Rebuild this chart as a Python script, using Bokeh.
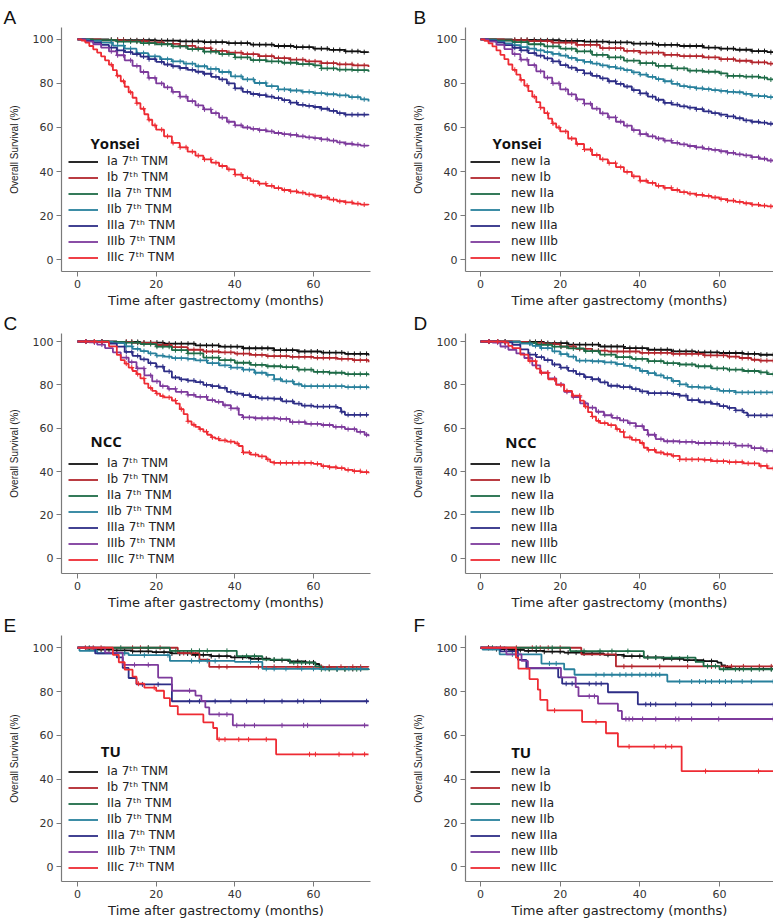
from bisect import bisect_right
from bokeh.plotting import figure
from bokeh.models import Legend, LegendItem, Label, FixedTicker, Range1d
from bokeh.layouts import gridplot
from bokeh.embed import file_html
from bokeh.resources import INLINE

# ---------------- data ----------------
X_TICKS = [0, 20, 40, 60]
Y_TICKS = [0, 20, 40, 60, 80, 100]
X_LABEL = "Time after gastrectomy (months)"
Y_LABEL = "Overall Survival (%)"
LABELS_7TH = ["Ia 7ᵗʰ TNM", "Ib 7ᵗʰ TNM", "IIa 7ᵗʰ TNM", "IIb 7ᵗʰ TNM",
              "IIIa 7ᵗʰ TNM", "IIIb 7ᵗʰ TNM", "IIIc 7ᵗʰ TNM"]
LABELS_NEW = ["new Ia", "new Ib", "new IIa", "new IIb", "new IIIa", "new IIIb", "new IIIc"]
COLORS = ["#111111", "#b3262d", "#1e6b47", "#28809c", "#2d2d86", "#7d3a9c", "#ee2b33"]

# Panel A - Yonsei, 7th TNM  (time in months, survival in %)
A_IA = [(0,100),(8,99.8),(12,99.6),(20,99.4),(26,99.1),(32,98.8),(38,98.3),(44,97.6),(50,97),(55,96.5),(60,95.8),(64,95.2),(68,94.6),(72,94.2),(74,94)]
A_IB = [(0,100),(6,99.6),(12,99.2),(18,98.6),(22,98),(26,97.1),(30,96),(34,94.8),(38,94),(42,93.3),(46,92.4),(50,91.5),(54,90.8),(58,90),(62,89.2),(66,88.7),(70,88.2),(74,87.5)]
A_IIA = [(0,100),(4,99.6),(10,99),(16,98.3),(20,97.8),(24,96.8),(28,95.6),(32,94.4),(36,93.3),(40,91.8),(44,90.6),(48,90),(52,89.4),(56,88.8),(60,88.2),(62,86.8),(66,86.3),(70,86),(74,85.3)]
A_IIB = [(0,100),(3,99.3),(6,98.5),(9,97.2),(12,95.8),(15,93.8),(18,92.3),(21,91),(24,90),(27,89),(30,87.8),(33,86.6),(36,85.2),(39,83.2),(42,81.8),(45,80.2),(48,78.8),(51,77.3),(54,76.8),(57,76.2),(60,75.6),(63,75.1),(66,74.6),(69,73.8),(72,72.8),(74,71.8)]
A_IIIA = [(0,100),(2,99.3),(4,98.5),(6,97.5),(8,96.3),(10,95),(12,94.2),(14,93.3),(16,92.2),(18,91),(20,89.8),(22,88.6),(24,87.8),(26,87),(28,86.2),(30,85.3),(32,84.4),(34,83),(36,81.8),(38,80),(40,77.8),(42,76.2),(44,75.2),(46,74.7),(48,74),(50,73.3),(52,72.4),(54,71.3),(56,70.3),(58,69.8),(60,69.3),(62,68.5),(64,67.5),(66,66.5),(68,65.8),(74,65.6)]
A_IIIB = [(0,100),(2,99),(4,97.8),(6,96.3),(8,94.6),(10,92.8),(12,90.5),(14,88),(16,85.2),(18,82.5),(20,80),(22,78.2),(24,76.2),(26,74),(28,72),(30,70),(32,68.2),(34,66.5),(36,64.5),(38,62.6),(40,61),(42,60),(44,59.4),(46,58.8),(48,58.2),(50,57.5),(52,57),(54,56.6),(56,56),(58,55.5),(60,55.2),(62,54.6),(64,54),(66,53.2),(68,52.6),(70,52.2),(72,51.8),(74,51.6)]
A_IIIC = [(0,100),(1,99.5),(2,98.5),(3,97),(4,95.5),(5,94),(6,92.3),(7,90.5),(8,88.5),(9,86),(10,83.5),(11,81),(12,78.5),(13,76),(14,73.5),(15,71),(16,68.5),(17,66),(18,63.5),(19,61),(20,59),(22,56),(24,53),(26,51),(28,49),(30,47.2),(32,45.5),(34,44),(36,42.5),(38,41),(40,38.6),(42,37),(44,35.6),(46,34.5),(48,33.5),(50,32.5),(52,31.6),(54,31),(56,30.4),(58,29.6),(60,29),(62,28.2),(64,27.2),(66,26.5),(68,26),(70,25.4),(72,25),(74,24.8)]

# Panel B - Yonsei, new staging
B_IA = [(0,100),(8,99.8),(14,99.6),(20,99.3),(26,99),(32,98.6),(38,98.1),(44,97.5),(50,97),(56,96.3),(60,95.8),(64,95.3),(68,94.7),(72,94.2),(74,94)]
B_IB = [(0,100),(6,99.6),(12,99.2),(18,98.5),(24,97.5),(30,96),(36,94.8),(40,94),(46,93),(50,92.4),(56,91.8),(60,91),(64,90.3),(68,89.6),(72,89),(74,88.6)]
B_IIA = [(0,100),(4,99.5),(8,98.8),(12,97.8),(16,96.8),(20,95.8),(24,94.6),(28,93),(32,91.8),(36,90.4),(40,89.2),(44,88),(48,86.8),(52,85.8),(56,85.3),(60,84.6),(62,83.4),(66,83.1),(70,82.6),(72,81.8),(74,80.8)]
B_IIB = [(0,100),(2,99.6),(4,99),(6,98.2),(8,97.4),(10,96.5),(12,95.8),(14,95),(16,94.2),(18,93.4),(20,92.6),(22,91.6),(24,90.6),(26,89.8),(28,89),(30,88.2),(32,87.5),(34,86.8),(36,86),(38,85),(40,84),(42,83),(44,82),(46,81),(48,79.8),(50,78.8),(52,78.3),(54,77.8),(56,77.4),(58,77),(60,76.6),(62,76.2),(64,76),(66,75.3),(68,74.5),(70,74.2),(72,73.8),(74,73.3)]
B_IIIA = [(0,100),(2,99.4),(4,98.5),(6,97.4),(8,96.2),(10,95),(12,93.8),(14,92.6),(16,91.4),(18,90),(20,88.3),(22,87.2),(24,86),(26,84.6),(28,83.4),(30,82.3),(32,81),(34,79.8),(36,78.6),(38,77),(40,75.5),(42,74),(44,72.6),(46,71.2),(48,70.4),(50,69.6),(52,69),(54,68.3),(56,67.3),(58,66.5),(60,65.8),(62,65),(64,64.2),(66,63.2),(68,62.6),(70,62.2),(72,61.7),(74,61.3)]
B_IIIB = [(0,100),(2,99),(4,97.5),(6,95.6),(8,93.3),(10,90.8),(12,88.3),(14,85.5),(16,82.6),(18,80),(20,77.3),(22,75),(24,72.8),(26,70.8),(28,68.6),(30,66.4),(32,64.6),(34,62.6),(36,60.8),(38,58.8),(40,57),(42,56),(44,55),(46,54),(48,53),(50,52.3),(52,51.6),(54,51),(56,50.3),(58,49.8),(60,49.2),(62,48.5),(64,47.8),(66,47.3),(68,46.5),(70,45.8),(72,45),(74,44.7)]
B_IIIC = [(0,100),(1,99.3),(2,98.2),(3,96.8),(4,95),(5,93),(6,91),(7,88.6),(8,86.2),(9,84),(10,81.6),(11,79),(12,76.5),(13,74),(14,71.5),(15,69),(16,66.5),(17,64),(18,61.8),(19,60),(20,58.2),(22,55),(24,52.5),(26,50),(28,47.5),(30,45.5),(32,43.8),(34,42),(36,39.8),(38,37.8),(40,35.8),(42,34.8),(44,33.5),(46,32.6),(48,31.6),(50,30.6),(52,30),(54,29.4),(56,28.9),(58,28.2),(60,27.5),(62,26.8),(64,26.2),(66,25.6),(68,25),(70,24.5),(72,24.2),(74,24)]

# Panel C - NCC, 7th TNM
C_IA = [(0,100),(10,99.8),(16,99.5),(22,99),(30,98.2),(36,97.6),(42,96.9),(50,96),(56,95.4),(62,94.9),(68,94.3),(74,93.6)]
C_IB = [(0,100),(8,99.8),(14,99.4),(20,98.4),(24,97.4),(28,96.2),(32,95.4),(36,95),(40,94.4),(44,93.8),(48,93.3),(54,92.9),(60,92.5),(66,92),(70,91.4),(74,90.4)]
C_IIA = [(0,100),(8,99.8),(12,99.5),(16,98.8),(20,97.6),(24,96),(28,94.5),(32,92.6),(36,91.4),(40,90.2),(44,89.2),(48,88.6),(52,88.2),(56,87),(60,86),(64,85.6),(68,85),(74,84.5)]
C_IIB = [(0,100),(6,99.8),(9,99.3),(12,97.8),(14,96.6),(16,95.6),(18,94.5),(20,93.5),(22,93),(24,92.3),(28,92),(30,91.3),(33,90),(36,89),(39,88),(42,87),(45,85.6),(48,84.6),(50,82.6),(52,81.6),(55,80.3),(57,79.4),(68,79),(74,78.4)]
C_IIIA = [(0,100),(4,99.8),(8,99),(10,97.6),(12,95.2),(14,93.4),(16,91.8),(18,90),(20,88.4),(22,86.2),(24,83.4),(26,82.5),(28,82),(30,81.3),(32,80),(34,79.4),(36,78.6),(38,76.8),(40,76),(42,75.3),(44,74.4),(46,73.8),(50,73.6),(52,72.4),(55,71.4),(57,70.4),(60,70),(66,69.4),(67,67.6),(68,66.2),(74,66.2)]
C_IIIB = [(0,100),(3,99.6),(5,98.6),(7,97),(9,95),(11,92.6),(13,90.5),(15,87.6),(17,84.4),(19,81.6),(21,79.4),(23,78.2),(25,76.8),(28,75.4),(30,74.5),(33,73),(35,72.2),(37,70.6),(39,69.2),(41,66.2),(42,65),(45,64.6),(51,64.3),(54,62.8),(58,62),(62,61.5),(65,60.6),(68,59.6),(71,58.3),(73,57),(74,56.3)]
C_IIIC = [(0,100),(5,99.8),(8,97.8),(10,93.8),(11,91.4),(12,89.8),(13,88),(14,86.4),(15,85),(16,83),(17,80.6),(18,78.6),(19,77.2),(20,76),(21,74.8),(22,74.2),(24,72.8),(25,71.4),(26,68.8),(27,66.5),(28,63.2),(29,61.6),(30,60.6),(31,59.6),(32,58.4),(33,57),(34,55.8),(35,55.2),(36,54.4),(38,53.8),(40,53),(41,51.8),(42,48.8),(44,47.8),(46,47),(48,45.6),(49,44.4),(50,44),(58,44),(60,43.6),(62,42.5),(64,42),(66,41.6),(68,40.8),(70,40.2),(72,39.8),(74,39.2)]

# Panel D - NCC, new staging
D_IA = [(0,100),(10,99.8),(16,99.3),(22,98.6),(30,97.7),(36,97),(42,96.2),(48,95.5),(54,95),(60,94.7),(66,94.3),(70,93.9),(74,93.5)]
D_IB = [(0,100),(8,99.8),(12,99.4),(16,98.8),(20,97.7),(24,96.6),(28,95.8),(32,95.4),(40,94.8),(48,94.3),(56,93.6),(62,93),(65,92.4),(68,91.6),(70,91.2),(74,90.6)]
D_IIA = [(0,100),(6,99.8),(10,99.3),(14,98.5),(18,97.6),(22,96.8),(26,95.6),(30,94),(34,92.8),(38,92),(42,91),(46,90),(50,89.4),(54,88.6),(58,87.6),(62,87),(66,86.4),(70,85.8),(72,85),(74,84.2)]
D_IIB = [(0,100),(6,99.8),(10,99),(13,98),(15,97),(18,95.5),(20,94.2),(22,93),(24,91.2),(28,90.9),(31,90.4),(34,89.6),(36,88.8),(38,87.8),(40,86.4),(42,85.4),(44,84.4),(46,83.2),(48,81.8),(50,80.2),(52,79.1),(55,78.8),(58,78),(60,77.2),(64,76.5),(74,76.5)]
D_IIIA = [(0,100),(5,99.6),(8,98.5),(10,96.4),(12,94),(14,92.8),(16,91.4),(18,89.4),(20,88),(22,86.5),(24,85),(26,83.6),(28,82.6),(30,81.2),(32,79.6),(35,79),(38,78),(40,77),(42,76.2),(48,75.8),(50,75),(52,73),(55,72),(58,71.2),(60,70.2),(62,69.4),(64,68.2),(66,67.2),(67,65.9),(74,65.2)]
D_IIIB = [(0,100),(3,99.5),(5,97.7),(7,96.2),(9,94.5),(11,92.4),(13,89),(15,85.6),(17,83),(19,80.2),(21,76.8),(23,74.4),(25,71.5),(27,69.5),(29,67.6),(31,66),(33,64.8),(35,63.6),(37,62.4),(39,61),(41,59.2),(42,57),(44,55),(46,54),(50,53.7),(54,53.2),(60,53),(64,52),(68,50.8),(71,49.6),(74,48.2)]
D_IIIC = [(0,100),(6,99.6),(7,98),(8,97),(10,94),(12,91),(14,87.5),(15,85.6),(17,82.6),(19,80),(21,77.2),(23,75),(25,72.7),(26,70),(27,67.4),(28,65.4),(29,63.4),(30,62.4),(32,61.4),(34,59.6),(35,58.3),(36,55.8),(38,54.6),(40,53.2),(41,51),(42,50),(44,48.8),(46,48),(48,47.3),(50,45.6),(56,45.4),(58,44.8),(62,44.4),(66,43.8),(70,42.6),(72,41.5),(74,40.2)]

# Panel E - TU, 7th TNM
E_IA = [(0,100),(2,99.6),(5,99.2),(9,98.8),(14,98.4),(19,98),(24,97.4),(29,96.8),(34,96.2),(39,95.6),(44,95),(49,94.4),(54,93.8),(58,93.3),(60.5,92.6),(61.5,91.4),(62.5,90.6),(66,90.3),(74,90)]
E_IB = [(0,100),(25.5,97.6),(31,94.6),(33.5,91.3),(74,91.2)]
E_IIA = [(0,100),(23.5,98.6),(40.5,96.2),(47,94.6),(54,93.2),(60.5,91.5),(62,90.2),(74,90)]
E_IIB = [(0,100),(0.5,98.6),(5,97.5),(13,96.6),(23.5,94),(40,93.6),(47,90.4),(74,90)]
E_IIIA = [(0,100),(4.5,97.4),(10,95.6),(11.5,90.8),(13,86.2),(15,83.3),(24,75.6),(74,75.6)]
E_IIIB = [(0,100),(7,97.8),(11.5,92.2),(20.5,86.4),(24,80.4),(30,78.2),(31.5,75.8),(32.5,72.8),(33.5,69.6),(39.5,64.6),(74,64.6)]
E_IIIC = [(0,100),(9,96.8),(10.5,93.4),(12,90),(14,86.8),(15,83.6),(17,81.8),(20,80.4),(22,77),(23.5,73.4),(25.5,69.6),(32,66),(34.5,63.4),(35.5,58.2),(50.5,51.4),(74,51.4)]

# Panel F - TU, new staging
F_IA = [(0,100),(3,99.4),(7,99),(11,98.6),(16,98.2),(21,97.8),(26,97.4),(31,96.8),(36,96.2),(41,95.6),(46,95),(51,94.4),(56,93.9),(59.5,93.2),(60.5,92),(61.5,91),(63,90.4),(74,90.2)]
F_IB = [(0,100),(25.3,97),(34,91.5),(74,91.2)]
F_IIA = [(0,100),(22.5,98.5),(41,95.5),(54,93.6),(56,91.6),(60,90.2),(74,90)]
F_IIB = [(0,100),(0.5,99.2),(4.8,97),(15.3,92.8),(21,90.2),(23.6,87.7),(46.9,84.6),(74,84.6)]
F_IIIA = [(0,100),(5,98.4),(9.4,94.5),(11.5,90.6),(19.5,86.5),(20.5,83.6),(32,79.7),(39.5,74.2),(74,74.2)]
F_IIIB = [(0,100),(6.5,97),(10.3,94),(11.9,90.8),(20.2,86.5),(23.9,82),(24.6,77.9),(29.5,74.5),(34.5,71.2),(35.5,67.5),(74,67.5)]
F_IIIC = [(0,100),(8.9,95.5),(9.5,90.5),(12.3,85.7),(14.4,80.9),(15,76.2),(16.8,71.4),(25.5,66.2),(31.5,61),(34.5,54.9),(50.5,43.7),(74,43.7)]

# censoring times (months)
CENS_YONSEI = [8.6, 10.2, 11.7, 13.5, 15.1, 16.8, 18.2, 19.7, 21.4, 22.9, 24.3, 26.1, 27.6, 29.2, 30.7, 32.3, 33.9, 35.2, 36.8, 38.5, 40.1, 41.6, 43.2, 44.7, 46.3, 47.9, 49.4, 51.1, 52.6, 54.2, 55.7, 57.3, 58.9, 60.4, 62.0, 63.5, 65.1, 66.7, 68.2, 69.8, 71.3, 72.9]
CENS_NCC = [2.1, 4.3, 6.2, 12.4, 13.8, 15.3, 16.9, 18.6, 20.2, 21.7, 23.3, 24.9, 26.4, 28.1, 29.6, 31.2, 32.8, 34.3, 35.9, 37.5, 39.0, 40.6, 42.2, 43.7, 45.3, 46.9, 48.4, 50.0, 51.6, 53.1, 54.7, 56.3, 57.8, 59.4, 61.0, 62.5, 64.1, 65.7, 67.2, 68.8, 70.4, 71.9, 73.5]
E_IA_C = [3, 6, 8, 10, 12, 14, 16, 18, 20, 22, 24, 26, 28, 30, 32, 34, 36, 38, 40, 42, 44, 46, 48, 50, 52, 54, 56, 58, 60, 64, 66, 68, 70, 72]
E_IB_C = [2, 4, 6, 14, 16, 18, 21, 27, 29, 36, 38, 46, 50, 56, 62, 64, 67, 70, 72]
E_IIA_C = [3, 11, 18, 25, 29, 31, 33, 38, 43, 45, 50, 55, 57, 59, 62, 64, 66, 68, 71]
E_IIB_C = [12, 17, 23, 29, 31, 33, 35, 44, 48, 50, 53, 57, 60, 63, 66, 69, 72]
E_IIIA_C = [16.5, 20.5, 28.5, 31, 35, 39, 43, 47.5, 52, 56, 57.5, 61.8, 73.5]
E_IIIB_C = [14.5, 18, 28.5, 36, 38, 40.5, 42.5, 45, 52, 57.5, 58.5, 73]
E_IIIC_C = [15.5, 19.5, 36, 37.5, 41, 43.5, 48, 59, 60.5, 66.5, 70, 73]
F_IA_C = [2, 4, 6, 8, 10, 12, 14, 16, 18, 20, 22, 24, 26, 28, 30, 32, 34, 36, 38, 40, 42, 44, 46, 48, 50, 52, 54, 56, 58, 62, 65, 68, 71, 73]
F_IB_C = [2, 5, 9, 13, 15, 17, 20, 36, 38, 45, 52, 58, 63, 66, 70, 73]
F_IIA_C = [3, 14, 18, 26, 30, 33, 37, 44, 48, 52, 57, 59, 61, 64, 66, 68, 70, 73]
F_IIB_C = [8, 17.3, 19, 29, 31, 33, 35, 36.5, 38, 40, 41.5, 43, 44, 45, 50, 53, 55, 56.5, 58, 60, 61.5, 63, 65.7, 68, 73.5]
F_IIIA_C = [21.5, 23, 27.3, 29, 30.3, 41.5, 42.7, 44, 49, 53, 58, 61.5, 73.5]
F_IIIB_C = [27.3, 28.6, 36.5, 37.3, 38.2, 40.7, 44, 49, 49.8, 53, 59.8, 73.5]
F_IIIC_C = [18.6, 29, 37.3, 43.6, 46.5, 48, 56.5, 69.8]

# ---------------- drawing ----------------
FONT = "DejaVu Sans"

# per-row layout: (figure height, top border, y-range start, y-range end)
ROW_LAYOUT = [(310, 27, -5.4, 105.4), (302, 23, -7.0, 103.7), (308, 23, -6.65, 105.6)]


def step_value(curve, t):
    ts = [pt[0] for pt in curve]
    return curve[max(bisect_right(ts, t) - 1, 0)][1]


def make_panel(letter, cohort, cohort_xy, labels, curves, censors, col, row):
    left = col == 0
    h, top, y0, y1 = ROW_LAYOUT[row]
    p = figure(width=382 if left else 391, height=h,
               x_range=Range1d(-4.07, 74.5) if left else Range1d(-3.77, 73.56),
               y_range=Range1d(y0, y1),
               output_backend="svg", toolbar_location=None,
               min_border_left=61 if left else 83,
               min_border_right=12 if left else 0,
               min_border_top=top, min_border_bottom=37,
               background_fill_color="white", border_fill_color="white")
    p.outline_line_color = None
    p.grid.visible = False

    p.title.text = letter
    p.title.align = "left"
    p.title.offset = -58 if left else -52
    p.title.standoff = 0
    p.title.text_font = "Liberation Sans"
    p.title.text_font_style = "normal"
    p.title.text_font_size = "19px"
    p.title.text_color = "#111111"

    p.xaxis.ticker = FixedTicker(ticks=X_TICKS)
    p.yaxis.ticker = FixedTicker(ticks=Y_TICKS)
    p.xaxis.axis_label = X_LABEL
    p.yaxis.axis_label = Y_LABEL
    for ax in (p.xaxis[0], p.yaxis[0]):
        ax.axis_line_color = "#7a7a7a"
        ax.axis_line_width = 1.2
        ax.major_tick_line_color = "#7a7a7a"
        ax.major_tick_in = 0
        ax.major_tick_out = 5
        ax.minor_tick_line_color = None
        ax.major_label_text_font = FONT
        ax.major_label_text_font_size = "11px"
        ax.major_label_text_color = "#333333"
        ax.major_label_standoff = 3
        ax.axis_label_text_font_style = "normal"
        ax.axis_label_text_color = "#222222"
    p.xaxis.axis_label_text_font = FONT
    p.xaxis.axis_label_text_font_size = "13px"
    p.xaxis.axis_label_standoff = 2
    p.yaxis.axis_label_text_font = "Liberation Sans"
    p.yaxis.axis_label_text_font_size = "10px"
    p.yaxis.axis_label_standoff = 10

    items = []
    for lab, curve, cens, color in zip(labels, curves, censors, COLORS):
        xs = [pt[0] for pt in curve]
        ys = [pt[1] for pt in curve]
        r = p.step(x=xs, y=ys, mode="after", line_color=color, line_width=1.8)
        cx = [t for t in cens if t <= xs[-1]]
        cy = [step_value(curve, t) for t in cx]
        p.scatter(x=cx, y=cy, marker="cross", size=5, line_color=color, line_width=1)
        items.append(LegendItem(label=lab, renderers=[r]))

    legend = Legend(items=items, location=(7 if left else 5, 7),
                    glyph_width=30, glyph_height=13, label_height=13,
                    spacing=2, padding=0, margin=0,
                    label_standoff=9 if left else 11,
                    label_text_font=FONT, label_text_font_size="12px",
                    label_text_color="#222222",
                    background_fill_alpha=0, border_line_color=None)
    p.add_layout(legend)

    p.add_layout(Label(x=cohort_xy[0], y=cohort_xy[1], text=cohort,
                       text_font="Open Sans", text_font_style="bold",
                       text_font_size="15px", text_baseline="middle",
                       text_color="#111111"))
    return p


big_a = [CENS_YONSEI] * 7
big_c = [CENS_NCC] * 7
pA = make_panel("A", "Yonsei", (3.3, 53), LABELS_7TH,
                [A_IA, A_IB, A_IIA, A_IIB, A_IIIA, A_IIIB, A_IIIC], big_a, 0, 0)
pB = make_panel("B", "Yonsei", (3.0, 53), LABELS_NEW,
                [B_IA, B_IB, B_IIA, B_IIB, B_IIIA, B_IIIB, B_IIIC], big_a, 1, 0)
pC = make_panel("C", "NCC", (3.3, 54), LABELS_7TH,
                [C_IA, C_IB, C_IIA, C_IIB, C_IIIA, C_IIIB, C_IIIC], big_c, 0, 1)
pD = make_panel("D", "NCC", (6.2, 53.7), LABELS_NEW,
                [D_IA, D_IB, D_IIA, D_IIB, D_IIIA, D_IIIB, D_IIIC], big_c, 1, 1)
pE = make_panel("E", "TU", (5.9, 52.8), LABELS_7TH,
                [E_IA, E_IB, E_IIA, E_IIB, E_IIIA, E_IIIB, E_IIIC],
                [E_IA_C, E_IB_C, E_IIA_C, E_IIB_C, E_IIIA_C, E_IIIB_C, E_IIIC_C], 0, 2)
pF = make_panel("F", "TU", (7.7, 52.5), LABELS_NEW,
                [F_IA, F_IB, F_IIA, F_IIB, F_IIIA, F_IIIB, F_IIIC],
                [F_IA_C, F_IB_C, F_IIA_C, F_IIB_C, F_IIIA_C, F_IIIB_C, F_IIIC_C], 1, 2)

grid = gridplot([[pA, pB], [pC, pD], [pE, pF]], toolbar_location=None)

with open("out.html", "w") as f:
    f.write(file_html(grid, INLINE))
